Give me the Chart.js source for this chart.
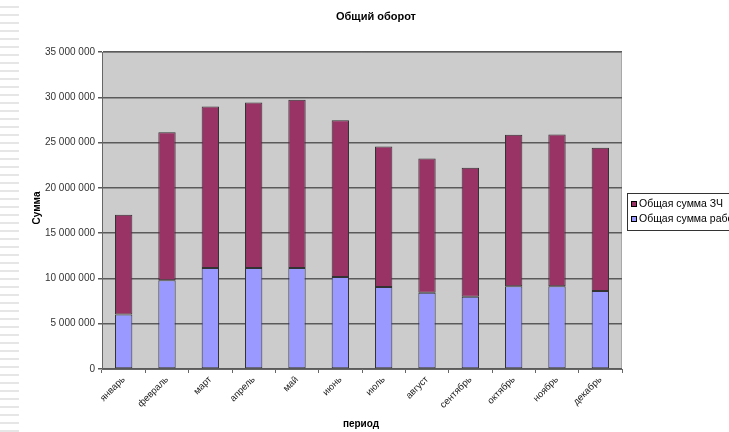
<!DOCTYPE html>
<html>
<head>
<meta charset="utf-8">
<script src="https://cdn.jsdelivr.net/npm/chart.js@4/dist/chart.umd.min.js"></script>
<style>
  html, body { margin: 0; padding: 0; background: #fff; }
  #wrap { position: relative; width: 729px; height: 432px; overflow: hidden; }
  #stripes {
    position: absolute; left: 0; top: 0; width: 19px; height: 432px;
    background: repeating-linear-gradient(to bottom, #ffffff 0px, #ffffff 6px, #e6e6e6 6px, #e6e6e6 8px);
  }
  canvas { position: absolute; left: 0; top: 0; }
</style>
</head>
<body>
<div id="wrap">
  <div id="stripes"></div>
  <canvas id="c" width="729" height="432"></canvas>
</div>
<script>
// Months of the reporting period
const months = ['январь', 'февраль', 'март', 'апрель', 'май', 'июнь', 'июль', 'август', 'сентябрь', 'октябрь', 'ноябрь', 'декабрь'];
// Total spent on work (bottom segment), roubles
const workSum = [6030000, 9810000, 11140000, 11140000, 11140000, 10150000, 9040000, 8420000, 7980000, 9150000, 9150000, 8600000];
// Total spent on spare parts (top segment), roubles
const partsSum = [11000000, 16340000, 17840000, 18290000, 18580000, 17320000, 15530000, 14820000, 14240000, 16710000, 16740000, 15820000];
// Value-axis ticks
const yTicks = [0, 5000000, 10000000, 15000000, 20000000, 25000000, 30000000, 35000000];

const seriesNames = ['Общая сумма ЗЧ', 'Общая сумма работ'];
const FONT = 'Arial, "Liberation Sans", sans-serif';

function fmt(v) {
  return String(v).replace(/\B(?=(\d{3})+(?!\d))/g, ' ');
}

// Plot background, chart title, axis titles and legend box
const decor = {
  id: 'decor',
  beforeDraw(chart) {
    const { ctx, chartArea: a } = chart;
    ctx.save();
    ctx.fillStyle = '#cccccc';
    ctx.fillRect(a.left, a.top, a.right - a.left, a.bottom - a.top);
    ctx.strokeStyle = '#a8a8a8';
    ctx.lineWidth = 1;
    ctx.beginPath();
    ctx.moveTo(a.left, a.top + 0.5);
    ctx.lineTo(a.right - 0.5, a.top + 0.5);
    ctx.lineTo(a.right - 0.5, a.bottom);
    ctx.stroke();
    ctx.restore();
  },
  afterDraw(chart) {
    const { ctx } = chart;
    ctx.save();
    ctx.fillStyle = '#000';
    ctx.textAlign = 'center';
    ctx.textBaseline = 'middle';
    ctx.font = 'bold 11px ' + FONT;
    ctx.fillText('Общий оборот', 376, 17);
    ctx.font = 'bold 10px ' + FONT;
    ctx.fillText('период', 361, 424);
    ctx.save();
    ctx.translate(37, 208);
    ctx.rotate(-Math.PI / 2);
    ctx.fillText('Сумма', 0, 0);
    ctx.restore();

    // legend
    const lx = 627.5, ly = 193.5, lw = 120, lh = 37;
    ctx.fillStyle = '#ffffff';
    ctx.fillRect(lx, ly, lw, lh);
    ctx.strokeStyle = '#333';
    ctx.lineWidth = 1;
    ctx.strokeRect(lx, ly, lw, lh);
    const colors = ['#993366', '#9999ff'];
    ctx.textAlign = 'left';
    ctx.font = '10.5px ' + FONT;
    seriesNames.forEach((n, i) => {
      const y = 204 + i * 15;
      ctx.fillStyle = colors[i];
      ctx.fillRect(631, y - 3, 6, 6);
      ctx.strokeStyle = '#000';
      ctx.strokeRect(631.5, y - 2.5, 5, 5);
      ctx.fillStyle = '#000';
      ctx.fillText(n, 639, y);
    });
    ctx.restore();
  }
};

new Chart(document.getElementById('c'), {
  type: 'bar',
  data: {
    labels: months,
    datasets: [
      {
        label: seriesNames[1],
        data: workSum,
        backgroundColor: '#9999ff',
        borderColor: '#333333',
        borderWidth: 1,
        borderSkipped: false,
        categoryPercentage: 1,
        barPercentage: 0.4,
        order: 1
      },
      {
        label: seriesNames[0],
        data: partsSum,
        backgroundColor: '#993366',
        borderColor: '#333333',
        borderWidth: 1,
        borderSkipped: false,
        categoryPercentage: 1,
        barPercentage: 0.4,
        order: 2
      }
    ]
  },
  options: {
    responsive: false,
    animation: false,
    devicePixelRatio: 1,
    layout: { padding: { top: 52, right: 107, left: 0, bottom: 0 } },
    plugins: {
      legend: { display: false },
      title: { display: false },
      tooltip: { enabled: false }
    },
    scales: {
      x: {
        stacked: true,
        offset: true,
        afterFit(s) { s.height = 63; },
        grid: {
          offset: true,
          drawOnChartArea: false,
          drawTicks: true,
          tickLength: 4,
          color: '#666666'
        },
        border: { display: true, color: '#666666', width: 1 },
        ticks: {
          minRotation: 45,
          maxRotation: 45,
          color: '#222',
          padding: 1,
          font: { family: FONT, size: 9.5 }
        }
      },
      y: {
        stacked: true,
        min: 0,
        max: 35000000,
        afterFit(s) { s.width = 102; },
        afterBuildTicks(s) { s.ticks = yTicks.map(v => ({ value: v })); },
        grid: {
          color: '#5a5a5a',
          lineWidth: 1.5,
          tickLength: 4
        },
        border: { display: true, color: '#666666', width: 1 },
        ticks: {
          color: '#333',
          padding: 3,
          font: { family: FONT, size: 10 },
          callback: v => fmt(v)
        }
      }
    }
  },
  plugins: [decor]
});
</script>
</body>
</html>
